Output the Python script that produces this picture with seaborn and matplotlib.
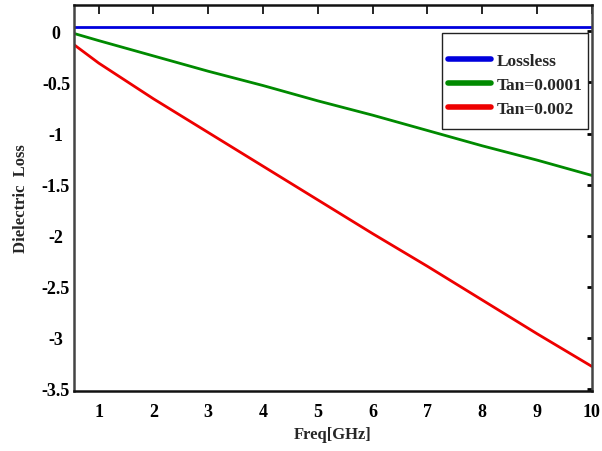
import numpy as np
import pandas as pd
import seaborn as sns
import matplotlib
matplotlib.use("Agg")
import matplotlib.pyplot as plt
from matplotlib.patches import Rectangle

freq = [0.55, 1, 2, 3, 4, 5, 6, 7, 8, 9, 10]
lossless = [0.047] * len(freq)
tan_0001 = [-0.02, -0.09, -0.24, -0.39, -0.53, -0.68, -0.82, -0.97, -1.12, -1.26, -1.41]
tan_002 = [-0.13, -0.31, -0.66, -0.99, -1.32, -1.65, -1.98, -2.30, -2.63, -2.96, -3.28]
labels = ["Lossless", "Tan=0.0001", "Tan=0.002"]
colors = ["#0000dd", "#008a00", "#ee0000"]
xticks = [1, 2, 3, 4, 5, 6, 7, 8, 9, 10]
yticks = [0, -0.5, -1, -1.5, -2, -2.5, -3, -3.5]

sns.set_style("white")
plt.rcParams["font.family"] = ["Liberation Serif", "DejaVu Serif"]
plt.rcParams["font.weight"] = "bold"

df = pd.DataFrame({
    "freq": freq * 3,
    "loss": lossless + tan_0001 + tan_002,
    "series": sum([[l] * len(freq) for l in labels], []),
})

fig = plt.figure(figsize=(6.02, 4.52), dpi=100)
ax = fig.add_axes([0.123, 0.133, 0.860, 0.854])
sns.lineplot(data=df, x="freq", y="loss", hue="series", palette=colors,
             hue_order=labels, linewidth=2, ax=ax)

ax.set_xlim(0.55, 10)
ax.set_ylim(-3.52, 0.26)
ax.set_xticks(xticks)
ax.set_xticklabels([str(t) for t in xticks])
ax.set_yticks(yticks)
ax.set_yticklabels(["0", "-0.5", "-1", "-1.5", "-2", "-2.5", "-3", "-3.5"])
ax.tick_params(axis="x", direction="in", length=6.5, width=1.2, top=True,
               labelsize=13, colors="black", pad=9)
ax.tick_params(axis="y", direction="in", length=3.5, width=2, right=True,
               labelsize=13, colors="black", pad=13)
for lab in ax.get_xticklabels() + ax.get_yticklabels():
    lab.set_fontweight("bold")
for lab in ax.get_yticklabels():
    lab.set_horizontalalignment("center")
for name, s in ax.spines.items():
    s.set_color("#111111" if name in ("bottom", "top") else "#444444")
    s.set_linewidth(1.8)
ax.set_xlabel("Freq[GHz]", fontsize=12, fontweight="bold", labelpad=4)
ax.set_ylabel("Dielectric  Loss", fontsize=12, fontweight="bold", labelpad=9)

leg = ax.legend(loc="center", bbox_to_anchor=(0.852, 0.792), fontsize=12.5,
                frameon=False, handlelength=2.5, handletextpad=0.3,
                borderpad=0.0, labelspacing=0.45)
for line in leg.get_lines():
    line.set_linewidth(4)
for t in leg.get_texts():
    t.set_fontweight("bold")
ax.add_patch(Rectangle((0.710, 0.679), 0.282, 0.248, transform=ax.transAxes,
                       fill=True, facecolor="white", edgecolor="#222222",
                       linewidth=1.0, zorder=4))
leg.set_zorder(5)

fig.savefig("out.png", dpi=100)
